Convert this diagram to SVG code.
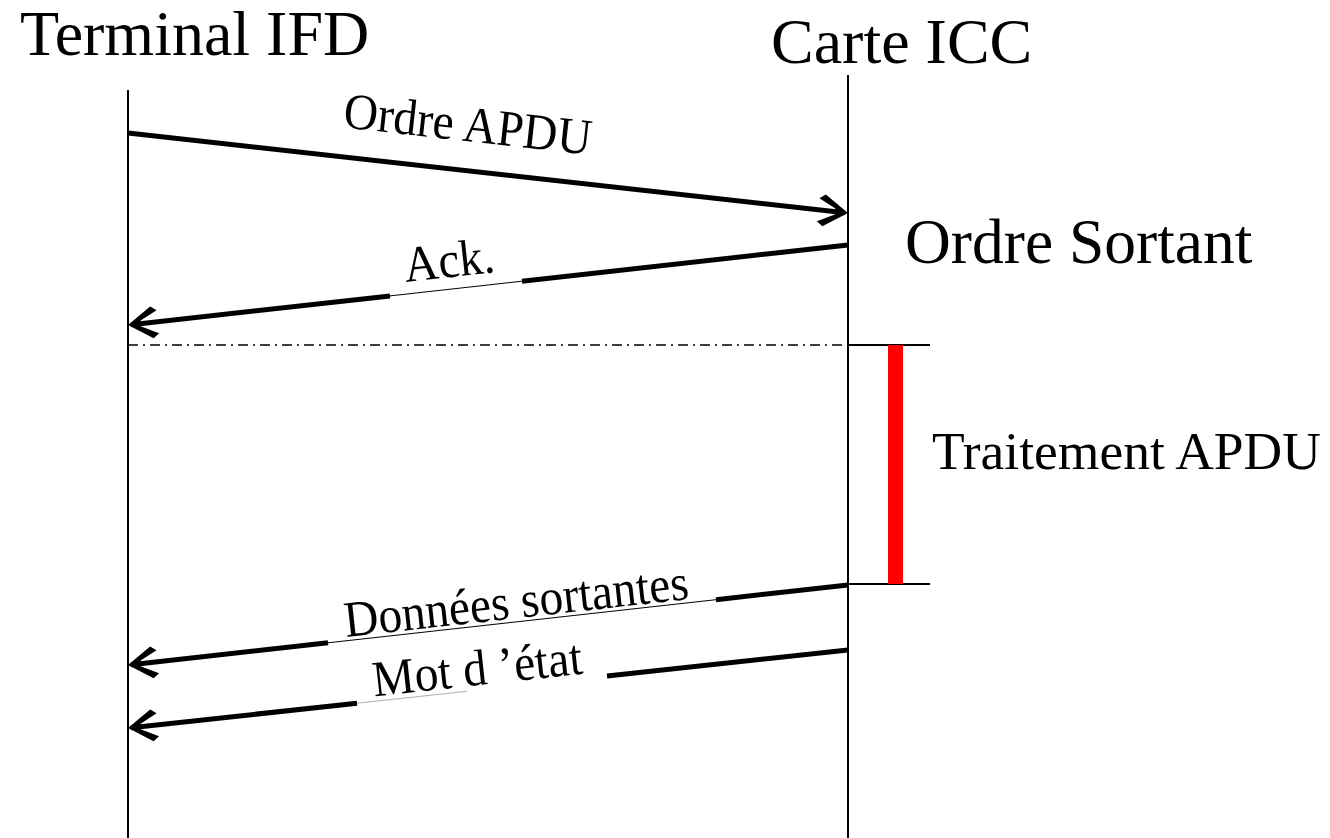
<svg xmlns="http://www.w3.org/2000/svg" width="1330" height="838" viewBox="0 0 1330 838">
  <style>
    text { font-family: "Liberation Serif", "Times New Roman", serif; fill: #000; }
    .title { font-size: 64px; }
    .lbl { font-size: 51px; text-anchor: middle; }
    .life { stroke: #000; stroke-width: 2; fill: none; }
    .msg { stroke: #000; stroke-width: 5; fill: none; }
    .thin { stroke: #000; stroke-width: 1; fill: none; }
    .faint { stroke: #999; stroke-width: 0.8; fill: none; }
  </style>
  <defs>
    <marker id="head" markerUnits="userSpaceOnUse" viewBox="-30 -18 34 36" refX="0" refY="0" markerWidth="34" markerHeight="36" orient="auto">
      <path d="M3,0 L-21,-16 L-27,-11.5 L-10,-3 L-10,3 L-27,11.5 L-21,16 Z" fill="#000"/>
    </marker>
  </defs>

  <rect width="1330" height="838" fill="#fff"/>

  <!-- lifelines -->
  <g id="terminal">
    <line class="life" x1="128" y1="90" x2="128" y2="838"/>
    <text class="title" x="20" y="55">Terminal IFD</text>
  </g>
  <g id="carte">
    <line class="life" x1="848" y1="75" x2="848" y2="838"/>
    <text class="title" x="771" y="63">Carte ICC</text>
  </g>

  <g id="ordre-sortant">
    <text x="905" y="263" style="font-size:63.5px">Ordre Sortant</text>
  </g>

  <!-- processing span on the card side -->
  <g id="traitement">
    <line stroke="#000" stroke-width="2" x1="848" y1="345" x2="930" y2="345"/>
    <line stroke="#000" stroke-width="2" x1="848" y1="584" x2="930" y2="584"/>
    <rect x="888" y="345" width="15" height="239" fill="#ff0000"/>
    <text x="932" y="469" style="font-size:53.5px">Traitement APDU</text>
  </g>

  <g id="connectors">
    <!-- command -->
    <line class="msg" x1="128" y1="133" x2="845" y2="212.7" marker-end="url(#head)"/>
    <!-- ack -->
    <line class="msg" x1="848" y1="245" x2="522" y2="281.2"/>
    <line class="thin" x1="522" y1="281.2" x2="390" y2="295.9"/>
    <line class="msg" x1="390" y1="295.9" x2="131" y2="324.7" marker-end="url(#head)"/>
    <!-- separator -->
    <line stroke="#000" stroke-width="1.5" stroke-dasharray="10 5 2 5" x1="128" y1="345" x2="848" y2="345"/>
    <!-- outgoing data -->
    <line class="msg" x1="848" y1="585" x2="716" y2="599.7"/>
    <line class="thin" x1="716" y1="599.7" x2="328" y2="642.8"/>
    <line class="msg" x1="328" y1="642.8" x2="131" y2="664.7" marker-end="url(#head)"/>
    <!-- status word -->
    <line class="msg" x1="848" y1="650" x2="607" y2="676.1"/>
    <line class="faint" x1="467" y1="691.3" x2="357" y2="703.2"/>
    <line class="msg" x1="357" y1="703.2" x2="131" y2="727.7" marker-end="url(#head)"/>
  </g>

  <g id="labels">
    <text class="lbl" transform="translate(466,141) rotate(6.34) scale(0.93,1)">Ordre APDU</text>
    <text class="lbl" transform="translate(451,277) rotate(-6.34) scale(0.93,1)">Ack.</text>
    <text class="lbl" transform="translate(518,618) rotate(-6.34) scale(0.93,1)">Données sortantes</text>
    <text class="lbl" transform="translate(479,685) rotate(-6.2) scale(0.93,1)">Mot d ’état</text>
  </g>
</svg>
